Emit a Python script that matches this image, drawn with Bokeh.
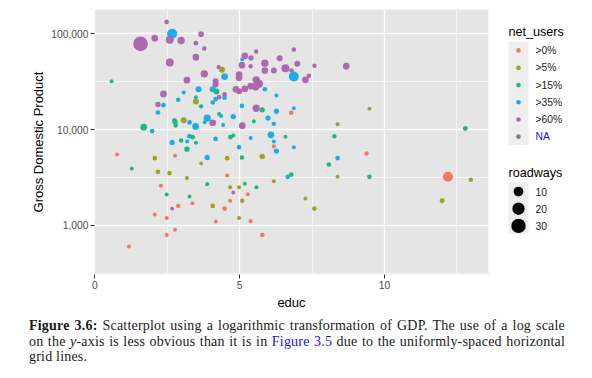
import math
from bokeh.plotting import figure
from bokeh.models import FixedTicker, Div, ColumnDataSource, Range1d
from bokeh.layouts import row, column
from bokeh.transform import factor_cmap
from bokeh.embed import file_html
from bokeh.resources import INLINE
from bokeh.core.properties import value

# ---------------- data ----------------
categories = [">0%", ">5%", ">15%", ">35%", ">60%"]
na_label = "NA"
palette = ["#F3766C", "#A2A21C", "#1DBA80", "#1BADE8", "#AD68AF"]
na_color = "#7F7F7F"

x_ticks = [0, 5, 10]
x_tick_labels = ["0", "5", "10"]
y_ticks = [1000, 10000, 100000]
y_tick_labels = ["1,000", "10,000", "100,000"]
size_breaks = [10, 20, 30]

educ = [2.48, 2.67, 1.58, 2.07, 2.59, 2.98, 3.67, 3.49, 3.78, 2.59,
        3.49, 5.09, 5.18, 5.39, 5.57, 5.38, 5.08, 4.28, 4.39, 3.78,
        3.18, 4.48, 4.98, 4.98, 5.87, 5.87, 6.38, 6.18, 0.58, 2.37,
        3.07, 3.58, 4.17, 4.17, 4.07, 4.20, 4.29, 4.48, 4.48, 4.87,
        4.98, 5.18, 5.38, 5.57, 5.66, 5.55, 5.87, 6.27, 2.18, 2.37,
        2.88, 3.49, 3.49, 3.67, 4.07, 4.17, 5.08, 5.57, 5.78, 6.27,
        2.18, 2.75, 2.77, 2.79, 3.07, 3.27, 3.48, 3.88, 4.07, 4.43,
        4.29, 4.36, 4.78, 5.09, 5.49, 5.98, 6.18, 1.69, 1.98, 3.27,
        2.98, 3.38, 3.19, 3.49, 2.67, 4.17, 4.68, 4.78, 5.38, 6.08,
        6.18, 6.18, 6.27, 0.77, 2.07, 2.77, 3.18, 3.88, 4.57, 4.98,
        5.08, 5.78, 1.28, 2.18, 2.58, 3.18, 3.67, 4.57, 3.88, 2.28,
        2.48, 3.27, 3.37, 4.07, 4.48, 4.67, 4.67, 4.78, 4.98, 5.09,
        5.18, 5.28, 5.58, 6.18, 2.07, 2.48, 2.67, 2.88, 4.18, 4.98,
        5.38, 2.48, 2.77, 5.78, 1.18, 6.87, 6.58, 6.79, 6.99, 6.87,
        7.27, 7.39, 7.58, 8.68, 6.87, 6.78, 9.48, 8.38, 6.58, 8.27,
        6.87, 12.79, 9.38, 8.38, 8.08, 6.66, 6.78, 8.38, 9.48, 12.19,
        12.98, 11.99, 7.27, 7.58, 3.79]

gdp = [133000, 100000, 78500, 90000, 86500, 85100, 99100, 79800, 70300, 50200,
       57000, 54400, 58900, 56100, 65300, 45900, 47100, 44900, 42100, 38200,
       32800, 35800, 37600, 34700, 49400, 41400, 55700, 41400, 32000, 23600,
       24400, 26400, 32000, 29600, 26400, 25000, 21800, 23300, 21500, 26400,
       25200, 26700, 28500, 33100, 30100, 28200, 26400, 22700, 18300, 18000,
       20500, 21800, 19700, 17500, 19200, 20800, 17700, 16700, 16100, 15600,
       15100, 12500, 12100, 11100, 12500, 11900, 10800, 13200, 11800, 11200,
       14600, 13900, 13700, 11000, 12200, 13200, 11500, 10600, 9640, 8550,
       7710, 8350, 7520, 7290, 7340, 8010, 8350, 8690, 8200, 8830,
       7520, 6690, 5980, 5510, 5040, 5330, 6260, 5120, 5040, 6570,
       5120, 5250, 3930, 3630, 3520, 3120, 4430, 3320, 2700, 2590,
       2110, 2010, 1710, 1600, 1500, 1810, 2510, 2210, 2510, 1810,
       2720, 2120, 2510, 2900, 1300, 1200, 1500, 1600, 1100, 1200,
       1110, 795, 901, 795, 604, 68600, 43800, 41400, 48600, 35900,
       33100, 36500, 46400, 45900, 16700, 15000, 16500, 11400, 8420, 8540,
       6560, 10300, 5640, 5040, 4330, 3220, 3400, 3220, 3220, 3220,
       3000, 1810, 1910, 1500, 11960]

net_users = [">60%", ">35%", ">60%", ">60%", ">60%", ">60%", ">60%", ">60%", ">60%", ">60%",
             ">60%", ">35%", ">60%", ">60%", ">60%", ">60%", ">60%", ">60%", ">5%", ">60%",
             ">60%", ">35%", ">60%", ">60%", ">60%", ">60%", ">60%", ">60%", ">15%", ">60%",
             ">35%", ">35%", ">60%", ">60%", ">35%", ">15%", ">60%", ">60%", ">35%", ">60%",
             ">60%", ">60%", ">60%", ">60%", ">60%", ">60%", ">35%", ">35%", ">60%", ">35%",
             ">35%", ">35%", ">5%", ">15%", ">35%", ">35%", ">35%", ">60%", ">15%", ">35%",
             ">35%", ">35%", ">15%", ">15%", ">5%", ">35%", ">35%", ">35%", ">60%", ">35%",
             ">15%", ">35%", ">35%", ">60%", ">15%", ">35%", ">35%", ">15%", ">35%", ">35%",
             ">15%", ">15%", ">35%", ">15%", ">35%", ">35%", ">15%", ">15%", ">35%", ">35%",
             ">35%", ">0%", ">35%", ">0%", ">5%", ">0%", ">15%", ">35%", ">5%", ">35%",
             ">15%", ">5%", ">15%", ">5%", ">5%", ">5%", ">5%", ">0%", ">15%", ">0%",
             ">15%", ">15%", ">0%", ">5%", ">0%", ">0%", ">5%", ">60%", ">5%", ">5%",
             ">15%", ">0%", ">15%", ">5%", ">0%", ">0%", ">60%", ">0%", ">0%", ">5%",
             ">0%", ">0%", ">0%", ">0%", ">0%", ">60%", ">60%", ">60%", ">60%", ">35%",
             ">60%", ">60%", ">60%", ">60%", ">35%", ">0%", ">5%", ">5%", ">15%", ">15%",
             ">35%", ">15%", ">0%", ">35%", ">15%", ">35%", ">15%", ">5%", ">15%", ">0%",
             ">5%", ">5%", ">5%", ">5%", ">35%"]

roadways = [0.4, 10.9, 31.7, 2.7, 5.3, 3.9, 1.3, 0.4, 0.4, 5.3,
            2.7, 0.1, 2.7, 0.9, 0.25, 0.25, 2.7, 0.25, 1.7, 3.9,
            2.7, 2.7, 2.7, 2.7, 3.9, 2.7, 1.7, 1.7, 0.05, 2.7,
            0.1, 1.7, 1.7, 1.7, 1.7, 1.7, 0.4, 0.4, 0.4, 2.7,
            1.7, 2.7, 2.7, 3.9, 6.9, 5.3, 0.4, 0.1, 0.9, 0.4,
            0.4, 0.1, 1.7, 0.25, 0.4, 0.4, 0.4, 3.9, 0.9, 0.9,
            0.4, 0.4, 0.9, 0.4, 1.7, 0.4, 2.7, 3.9, 2.7, 0.1,
            0.1, 0.1, 0.9, 2.7, 0.1, 0.9, 0.25, 2.7, 0.4, 0.4,
            0.4, 0.4, 0.1, 0.1, 0.9, 0.4, 0.4, 0.1, 0.1, 2.7,
            0.1, 0.1, 0.9, 0.1, 0.4, 0.1, 0.9, 0.9, 0.4, 0.4,
            0.4, 0.9, 0.1, 0.4, 0.4, 0.1, 0.05, 0.1, 0.1, 0.1,
            0.1, 0.1, 0.1, 0.4, 0.4, 0.1, 0.1, 0.05, 0.1, 0.25,
            0.1, 0.1, 0.1, 0.1, 0.1, 0.1, 0.05, 0.25, 0.05, 0.1,
            0.1, 0.1, 0.1, 0.4, 0.1, 0.4, 5.3, 0.4, 1.7, 10.9,
            2.7, 0.4, 0.25, 2.7, 0.1, 0.4, 0.1, 0.1, 0.1, 0.25,
            0.1, 0.6, 0.4, 0.4, 0.4, 0.4, 0.4, 0.1, 0.4, 10.9,
            0.25, 0.6, 0.1, 0.4, 0.1]


# size scale (area-proportional, like ggplot's scale_size)
def size_scale(r):
    return 3.4 + 2.0 * math.sqrt(r)


SANS = "Liberation Sans"

src = ColumnDataSource(dict(x=educ, y=gdp, net_users=net_users,
                            size=[size_scale(r) for r in roadways]))

p = figure(width=490, height=313, x_range=Range1d(-0.01, 13.59),
           y_range=Range1d(308, 179300), y_axis_type="log",
           output_backend="svg", toolbar_location=None,
           min_border_left=94, min_border_right=2, min_border_top=9,
           min_border_bottom=39)
p.background_fill_color = "#E5E5E5"
p.border_fill_color = "white"
p.outline_line_color = None

p.xaxis.ticker = FixedTicker(ticks=x_ticks, minor_ticks=[2.5, 7.5, 12.5])
p.yaxis.ticker = FixedTicker(ticks=y_ticks,
                             minor_ticks=[10 ** 2.5, 10 ** 3.5, 10 ** 4.5])
p.xaxis.major_label_overrides = dict(zip(x_ticks, x_tick_labels))
p.yaxis.major_label_overrides = {float(k): v for k, v in zip(y_ticks, y_tick_labels)}

for g in (p.xgrid, p.ygrid):
    g.grid_line_color = "white"
    g.grid_line_width = 1.3
    g.minor_grid_line_color = "white"
    g.minor_grid_line_width = 0.6

for ax in (p.xaxis, p.yaxis):
    ax.axis_line_color = None
    ax.major_tick_line_color = "#333333"
    ax.major_tick_out = 4
    ax.major_tick_in = 0
    ax.minor_tick_line_color = None
    ax.major_label_text_color = "#4D4D4D"
    ax.major_label_text_font = SANS
    ax.major_label_text_font_size = "10.3px"
    ax.major_label_standoff = 2
    ax.axis_label_text_font = SANS
    ax.axis_label_text_font_size = "13px"
    ax.axis_label_text_font_style = "normal"
    ax.axis_label_text_color = "black"

p.xaxis.axis_label = "educ"
p.yaxis.axis_label = "Gross Domestic Product"
p.xaxis.axis_label_standoff = 3
p.yaxis.axis_label_standoff = 2

p.scatter("x", "y", source=src, size="size",
          fill_color=factor_cmap("net_users", palette, categories, nan_color=na_color),
          line_color=None)

# ---------------- legend panel ----------------
leg = figure(width=102, height=313, x_range=Range1d(0, 102), y_range=Range1d(313, 0),
             output_backend="svg", toolbar_location=None,
             x_axis_location=None, y_axis_location=None, min_border=0)
leg.grid.visible = False
leg.outline_line_color = None
leg.background_fill_color = "white"
leg.border_fill_color = "white"

title_font = "12.6px"
lab_font = "10.3px"
key_bg = "#EEEEEE"

leg.text(x=[18], y=[27], text=["net_users"], text_baseline="middle",
         text_font=value(SANS), text_font_size=title_font, text_color="black")
leg.quad(left=[18], right=[38], top=[38], bottom=[160], fill_color=key_bg, line_color=None)
rows1 = [48.3, 69, 89.3, 109.6, 129.9, 150.2]
leg.scatter(x=[28] * 6, y=rows1, size=4.6, fill_color=palette + [na_color], line_color=None)
leg.text(x=[45] * 6, y=rows1, text=categories + [na_label], text_baseline="middle",
         text_font=value(SANS), text_font_size=lab_font,
         text_color=["#1A1A1A"] * 5 + ["#1010F0"])

leg.text(x=[18], y=[193], text=["roadways"], text_baseline="middle",
         text_font=value(SANS), text_font_size=title_font, text_color="black")
leg.quad(left=[18], right=[38], top=[204], bottom=[265], fill_color=key_bg, line_color=None)
rows2 = [215, 235.3, 255.6]
leg.scatter(x=[28] * 3, y=rows2, size=[size_scale(b) for b in size_breaks],
            fill_color="black", line_color=None)
leg.text(x=[45] * 3, y=rows2, text=[str(b) for b in size_breaks], text_baseline="middle",
         text_font=value(SANS), text_font_size=lab_font, text_color="#1A1A1A")

# ---------------- caption ----------------
line_style = ("width:536px;text-align:justify;text-align-last:justify;"
              "white-space:nowrap;")
caption = (
    '<div style="font-family:\'Liberation Serif\',serif;font-size:14px;line-height:15.6px;'
    'padding-left:29px;padding-top:5px;color:#1A1A1A;letter-spacing:0.2px;">'
    '<div style="' + line_style + '"><b>Figure 3.6:</b> Scatterplot using a logarithmic '
    'transformation of GDP. The use of a log scale</div>'
    '<div style="' + line_style + '">on the <i>y</i>-axis is less obvious than it is in '
    '<span style="color:#1515E8;">Figure 3.5</span> due to the uniformly-spaced horizontal</div>'
    '<div style="white-space:nowrap;">grid lines.</div></div>'
)
div = Div(text=caption, width=592, height=65, margin=(0, 0, 0, 0))

layout = column(row(p, leg, spacing=0), div, spacing=0)

open("out.html", "w").write(file_html(layout, INLINE))
